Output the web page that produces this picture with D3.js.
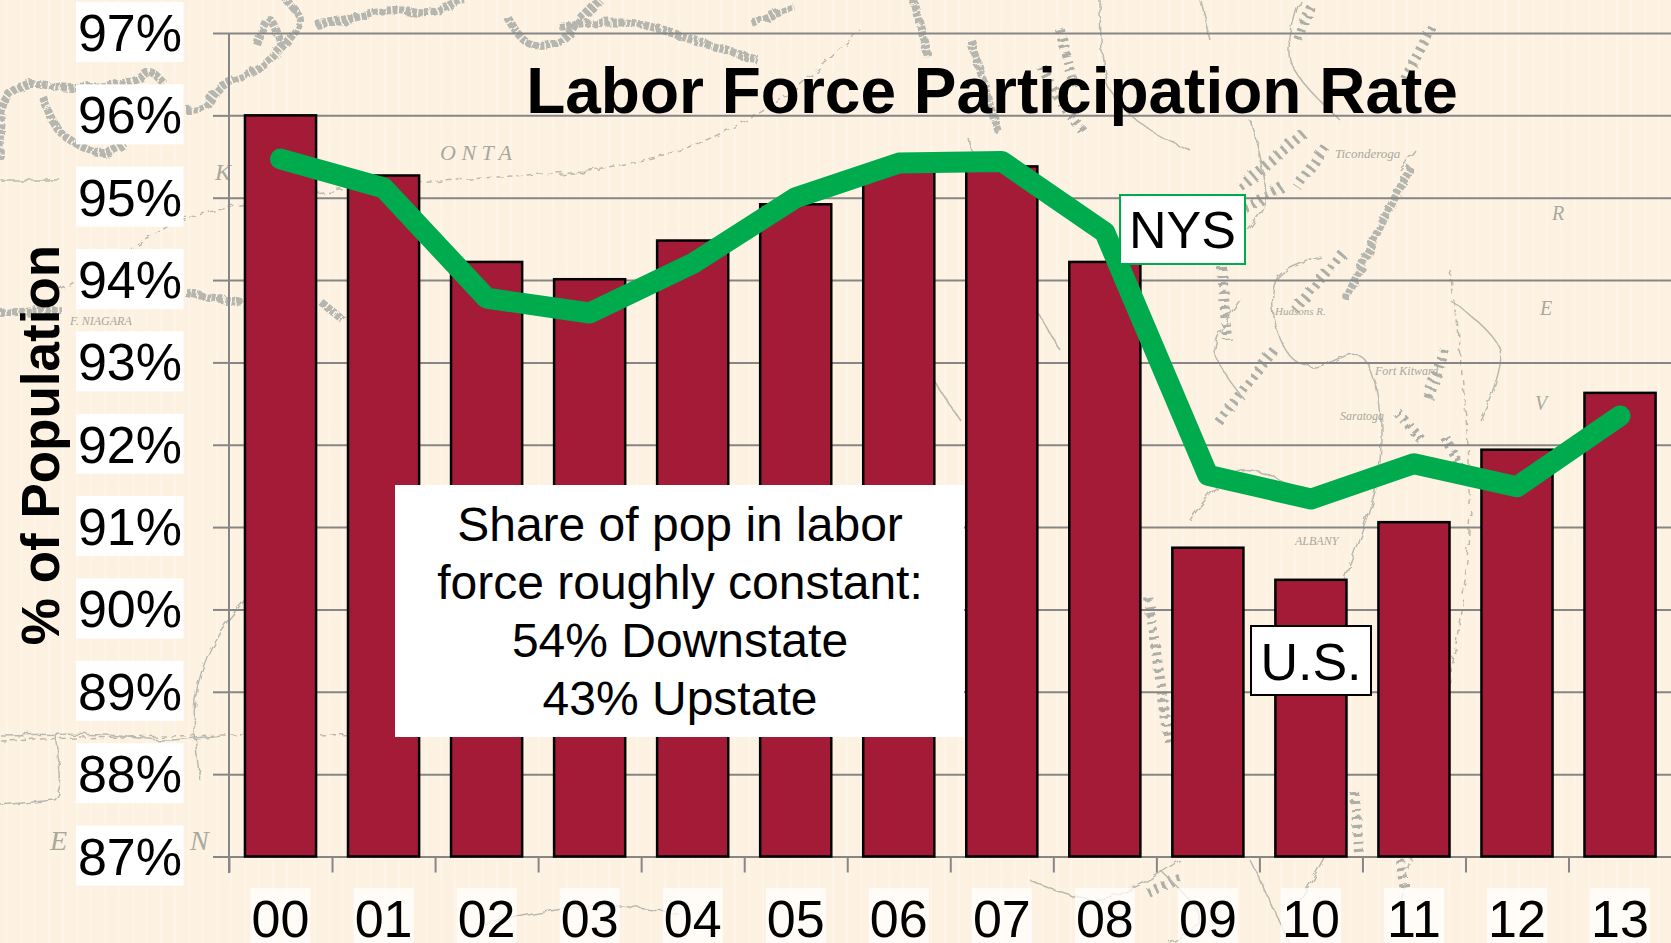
<!DOCTYPE html>
<html><head><meta charset="utf-8">
<script src="https://cdn.jsdelivr.net/npm/d3@7"></script>
<style>html,body{margin:0;padding:0;background:#fdf2e2;overflow:hidden}svg{display:block}text{font-family:"Liberation Sans",Arial,sans-serif}</style>
</head><body><svg id="c" width="1671" height="943"></svg>
<script>
const years=["00","01","02","03","04","05","06","07","08","09","10","11","12","13"];
const usValues=[96.0,95.27,94.22,94.01,94.48,94.92,95.33,95.38,94.22,90.75,90.36,91.06,91.94,92.63];
const nysValues=[95.47,95.12,93.78,93.6,94.2,95.0,95.42,95.44,94.58,91.63,91.34,91.77,91.49,92.35];
const yTicks=[87,88,89,90,91,92,93,94,95,96,97];
const noteLines=["Share of pop in labor","force roughly constant:","54% Downstate","43% Upstate"];
const titleText="Labor Force Participation Rate";
const yTitleText="% of Population";
// faint backdrop map, traced loosely from the reference (not data)
const mapThick=[
 [[0,160],[5,100],[25,85],[75,88],[136,80],[150,72],[165,85]],
 [[43,97],[61,133],[104,153],[125,143]],
 [[186,110],[204,107],[221,87],[257,70],[282,47],[300,20],[286,0]],
 [[257,45],[270,20],[282,47]],
 [[316,25],[357,17],[393,10],[428,13],[464,0]],
 [[507,17],[528,43],[557,43],[580,20],[600,0]],
 [[560,27],[631,23],[702,43],[758,60]],[[751,23],[794,7]],[[914,0],[928,57]],[[971,40],[999,133]],
 [[0,313],[61,310]],[[186,293],[243,303]],[[321,302],[343,320]],
 [[1411,167],[1385,217],[1364,260],[1346,300]]
];
const mapRidge=[
 [[1042,67],[1060,100],[1084,133]],[[1060,30],[1075,90]],
 [[1282,187],[1240,210]],[[1222,267],[1227,340]],[[1342,253],[1295,310]],[[1274,350],[1218,423]],
 [[1445,350],[1428,400]],[[1398,413],[1424,443]],[[1445,437],[1460,467]],
 [[1240,187],[1304,133]],[[1325,147],[1297,187]],[[1432,27],[1403,83]],[[1311,7],[1297,43]],
 [[1148,597],[1170,747]],[[1355,793],[1359,853]],[[1148,893],[1180,877]],[[1400,860],[1405,890]]
];
const mapThin=[
 [[1321,257],[1278,277],[1274,317],[1291,357],[1312,367],[1359,355],[1377,390],[1381,433],[1377,483],[1355,550],[1330,620],[1320,700],[1345,800],[1300,900]],
 [[1240,300],[1215,350],[1245,400]],[[1190,520],[1240,470],[1300,490]],[[1195,600],[1200,700],[1230,780]],
 [[1415,150],[1400,170]],[[1450,300],[1500,350],[1480,420]],
 [[1100,0],[1110,90],[1150,130],[1190,150]],[[1200,0],[1210,40]],[[1250,120],[1265,200],[1240,240]],[[1300,0],[1290,60],[1340,120]],
 [[0,735],[105,735],[165,740],[220,735]],[[55,735],[60,790],[55,800]],[[55,800],[0,805]],
 [[245,600],[215,640],[195,700],[200,780]],
 [[0,180],[60,180]],[[970,140],[1000,240],[1060,350]],[[900,330],[960,420]],
 [[1030,880],[1100,900],[1180,860]],[[1160,870],[1200,920],[1170,943]],[[1250,860],[1290,943]],[[480,925],[600,905],[680,915]]
];
const mapDash=[
 [[0,740],[230,735],[400,735]],[[185,215],[130,250],[60,290]],[[180,220],[240,205],[340,190],[600,170]],
 [[560,175],[680,150],[780,100],[860,30]],
 [[1450,270],[1470,500],[1450,680],[1400,900]]
];
const mapLabels=[["O N T A",440,160,22],["K",215,180,24],["E",50,850,28],["N",190,850,28],["F. NIAGARA",70,325,12],["V",1535,410,20],["E",1540,315,20],["R",1552,220,20],["Ticonderoga",1335,158,13],["Saratoga",1340,420,12],["ALBANY",1295,545,12],["Fort Kitward",1375,375,12],["Hudsons R.",1275,315,11]];

const W=1671,H=943,L=229,base=856.5,plotTop=33,band=103.04;
const x=d3.scaleBand().domain(years).range([L,L+band*14]).paddingInner(0.31).paddingOuter(0.155);
const y=d3.scaleLinear().domain([87,97]).range([base,plotTop]);
const svg=d3.select("#c");
const defs=svg.append("defs");
const pat=defs.append("pattern").attr("id","st").attr("width",14).attr("height",20).attr("patternUnits","userSpaceOnUse");
pat.append("rect").attr("width",14).attr("height",20).attr("fill","#fdf2e2");
pat.append("rect").attr("x",6).attr("width",2).attr("height",20).attr("fill","#fef5e8");
const f=defs.append("filter").attr("id","rough").attr("filterUnits","userSpaceOnUse").attr("x",0).attr("y",0).attr("width",W).attr("height",H);
f.append("feTurbulence").attr("type","fractalNoise").attr("baseFrequency",0.09).attr("numOctaves",2).attr("seed",4);
f.append("feDisplacementMap").attr("in","SourceGraphic").attr("scale",7);
svg.append("rect").attr("width",W).attr("height",H).attr("fill","url(#st)");
const mp=svg.append("g").attr("filter","url(#rough)").attr("fill","none").attr("stroke-linejoin","round");
const ln=d3.line().curve(d3.curveCatmullRom);
mp.selectAll(".a").data(mapThick).join("path").attr("class","a").attr("d",ln).attr("stroke","#b4b6af").attr("stroke-width",8).attr("stroke-dasharray","5 1.5");
mp.selectAll(".r").data(mapRidge).join("path").attr("class","r").attr("d",ln).attr("stroke","#acaea8").attr("stroke-width",10).attr("stroke-dasharray","3 5");
mp.selectAll(".b").data(mapThin).join("path").attr("class","b").attr("d",ln).attr("stroke","#b9b9b0").attr("stroke-width",1.5);
mp.selectAll(".c").data(mapDash).join("path").attr("class","c").attr("d",ln).attr("stroke","#bdb9ac").attr("stroke-width",1.5).attr("stroke-dasharray","6 4");
svg.append("g").selectAll("text").data(mapLabels).join("text")
 .attr("x",d=>d[1]).attr("y",d=>d[2]).attr("font-size",d=>d[3]).attr("fill","#a8a89e")
 .style("font-family","'Liberation Serif',serif").style("font-style","italic").text(d=>d[0]);

// y axis with gridlines and white-backed labels
const ya=d3.axisLeft(y).tickValues(yTicks).tickFormat(d=>d+"%").tickSize(16).tickPadding(0);
const yG=svg.append("g").attr("transform",`translate(${L},0)`).call(ya);
yG.select(".domain").remove();
yG.selectAll("line").clone().attr("x1",0).attr("x2",W-L);
yG.selectAll("line").attr("stroke","#868686").attr("stroke-width",2);
yG.selectAll(".tick text").remove();
svg.append("line").attr("x1",L).attr("x2",L).attr("y1",plotTop).attr("y2",873).attr("stroke","#868686").attr("stroke-width",2);

// x axis with outside ticks at band boundaries
const xEdge=d3.scaleLinear().domain([0,14]).range([L,L+band*14]);
const xG=svg.append("g").attr("transform",`translate(0,${base})`);
xG.call(d3.axisBottom(xEdge).tickValues(d3.range(0,14)).tickSize(16).tickFormat("")).select(".domain").remove();
xG.selectAll("line").attr("stroke","#868686").attr("stroke-width",2);

// bars
svg.append("g").selectAll("rect").data(years).join("rect")
 .attr("x",d=>x(d)).attr("width",x.bandwidth())
 .attr("y",(d,i)=>y(usValues[i])).attr("height",(d,i)=>base-y(usValues[i]))
 .attr("fill","#a31b37").attr("stroke","#000").attr("stroke-width",2.5);

// NYS line
const cx=d=>x(d)+x.bandwidth()/2;
svg.append("path").datum(nysValues)
 .attr("d",d3.line().x((d,i)=>cx(years[i])).y(d=>y(d)))
 .attr("fill","none").attr("stroke","#00ab4e").attr("stroke-width",21).attr("stroke-linecap","round").attr("stroke-linejoin","round");

// tick labels
const yl=svg.append("g").selectAll("g").data(yTicks).join("g").attr("transform",d=>`translate(0,${y(d)})`);
yl.append("rect").attr("x",76).attr("y",-31).attr("width",107.5).attr("height",60).attr("fill","#fff");
yl.append("text").attr("x",182).attr("y",18).attr("text-anchor","end").attr("font-size",52).attr("fill","#000").text(d=>d+"%");
const xl=svg.append("g").selectAll("g").data(years).join("g").attr("transform",d=>`translate(${cx(d)},0)`);
xl.append("rect").attr("x",-30).attr("y",888).attr("width",60).attr("height",55).attr("fill","#fff").attr("fill-opacity",0.75);
xl.append("text").attr("y",937).attr("text-anchor","middle").attr("font-size",52).attr("fill","#000").text(d=>d);

// titles
svg.append("text").attr("x",992).attr("y",113).attr("text-anchor","middle").attr("font-size",64).attr("font-weight","bold").attr("fill","#000").text(titleText);
svg.append("text").attr("transform","translate(59,445) rotate(-90)").attr("text-anchor","middle").attr("font-size",53).attr("font-weight","bold").attr("fill","#000").text(yTitleText);

// note
svg.append("rect").attr("x",395).attr("y",485).attr("width",569).attr("height",252).attr("fill","#fff");
svg.append("g").selectAll("text").data(noteLines).join("text").attr("x",680).attr("y",(d,i)=>541+i*58)
 .attr("text-anchor","middle").attr("font-size",48).attr("fill","#000").text(d=>d);

// series labels
function tag(x0,y0,w,h,color,t,b){
 svg.append("rect").attr("x",x0).attr("y",y0).attr("width",w).attr("height",h).attr("fill","#fff").attr("stroke",color).attr("stroke-width",2);
 svg.append("text").attr("x",x0+w/2).attr("y",b).attr("text-anchor","middle").attr("font-size",52).attr("fill","#000").text(t);
}
tag(1120,195,125,69,"#00ab4e","NYS",248);
tag(1251,626,120,69,"#000","U.S.",680);
</script></body></html>
